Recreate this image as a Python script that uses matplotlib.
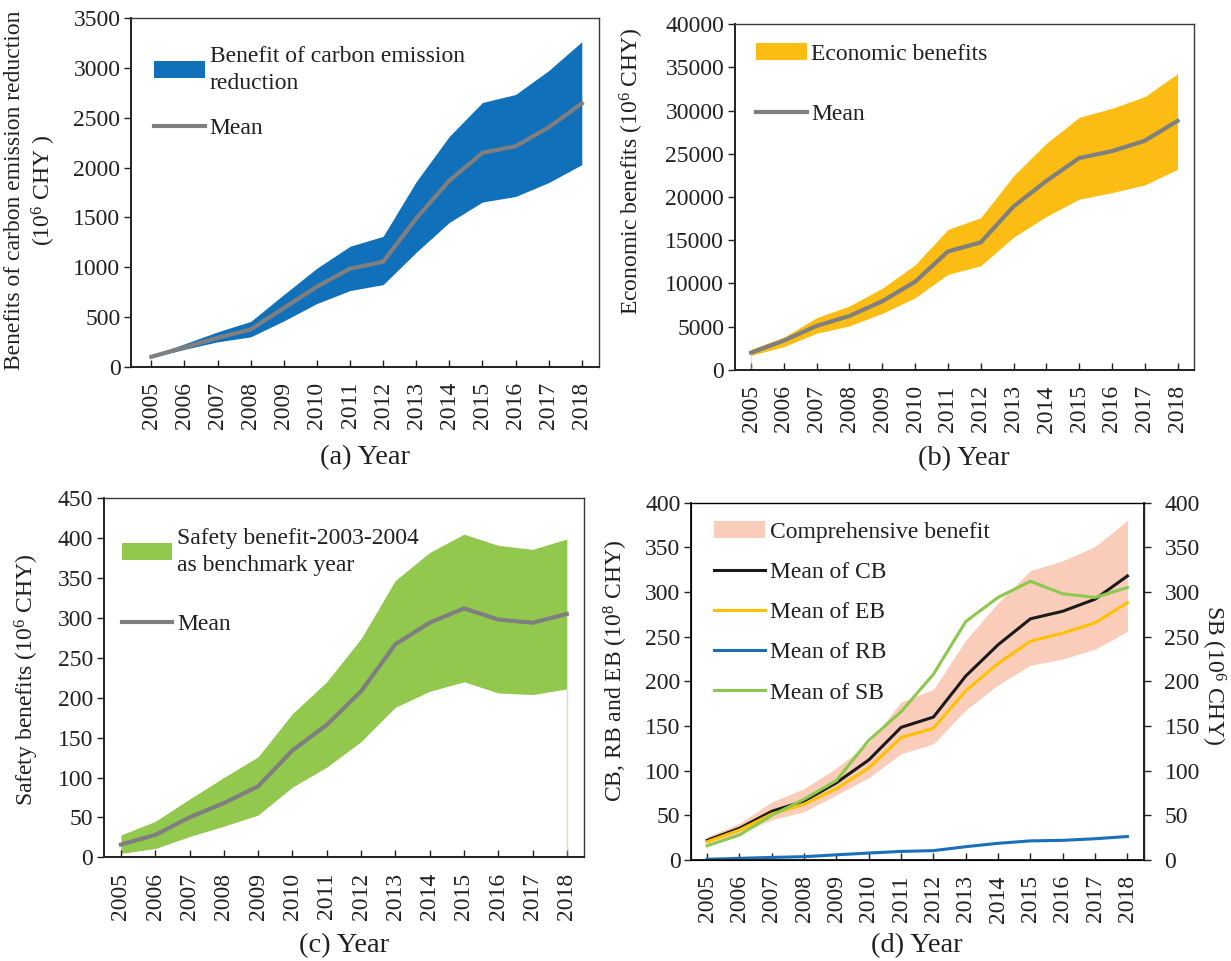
import matplotlib.pyplot as plt
from matplotlib.patches import Patch

plt.rcParams['font.family'] = ['Liberation Serif', 'DejaVu Serif']
plt.rcParams['mathtext.fontset'] = 'custom'
plt.rcParams['mathtext.rm'] = 'Liberation Serif'
plt.rcParams['mathtext.it'] = 'Liberation Serif:italic'
plt.rcParams['text.color'] = '#231F20'
plt.rcParams['axes.labelcolor'] = '#231F20'
plt.rcParams['xtick.color'] = '#231F20'
plt.rcParams['ytick.color'] = '#231F20'

years = [2005, 2006, 2007, 2008, 2009, 2010, 2011, 2012, 2013, 2014, 2015, 2016, 2017, 2018]
year_labels = [str(y) for y in years]

# (a) benefit of carbon emission reduction, 10^6 CHY
carbon_mean = [100, 195, 290, 375, 590, 805, 985, 1055, 1490, 1870, 2150, 2215, 2405, 2645]
carbon_upper = [110, 230, 350, 455, 725, 990, 1210, 1310, 1860, 2315, 2655, 2735, 2975, 3265]
carbon_lower = [90, 175, 250, 300, 460, 635, 765, 825, 1150, 1450, 1655, 1710, 1850, 2030]

# (b) economic benefits, 10^6 CHY
econ_mean = [2000, 3400, 5100, 6250, 7950, 10200, 13700, 14750, 18900, 21850, 24500, 25300, 26500, 28800]
econ_upper = [2400, 3800, 6050, 7400, 9450, 12150, 16250, 17600, 22450, 26200, 29200, 30250, 31600, 34250]
econ_lower = [1700, 2700, 4250, 5100, 6550, 8350, 11050, 12050, 15350, 17750, 19750, 20500, 21400, 23200]

# (c) safety benefits, 10^6 CHY
safety_mean = [16, 28, 50, 68, 89, 134, 166, 208, 267, 294, 312, 298, 294, 305]
safety_upper = [28, 45, 73, 100, 126, 180, 220, 274, 347, 382, 405, 391, 386, 399]
safety_lower = [5, 11, 26, 39, 53, 88, 113, 145, 188, 208, 220, 206, 204, 211]

# (d) comprehensive benefit (10^8 CHY) and SB on the right axis (10^6 CHY)
cb_mean = [22, 35.5, 54.5, 66, 86.5, 112, 148.5, 160, 206, 241, 270, 278.5, 292, 318]
cb_upper = [26, 41, 65, 80, 103, 131, 177, 191, 246, 288, 324, 335, 351, 380]
cb_lower = [19, 30, 45, 54, 73, 92, 119, 130, 168, 196, 218, 225, 236, 256]
eb_mean = [20.5, 33.5, 51.5, 62.5, 80, 103, 137, 147.5, 189.5, 220, 245, 254, 265.5, 288]
rb_mean = [0.8, 1.9, 2.9, 3.7, 5.8, 7.8, 9.6, 10.5, 14.9, 18.7, 21.4, 22, 23.8, 26.3]
sb_mean = [16, 28, 50, 68, 89, 134, 166, 208, 267, 294, 312, 298, 294, 305]

BLUE = '#1170BA'
GRAY = '#7F7F7F'
YELLOW = '#FBBD13'
GREEN = '#92C84E'
PEACH = '#F9CDB9'

FS = 17
XLABEL_FS = 20.5
x = list(range(len(years)))


def style_axes(ax, xlo=-0.5, xhi=0.5):
    ax.set_xlim(x[0] + xlo, x[-1] + xhi)
    ax.set_xticks(x)
    ax.set_xticklabels(year_labels, rotation=90)
    ax.tick_params(axis='x', direction='in', length=5, width=1, pad=11, labelsize=FS)
    ax.tick_params(axis='y', direction='out', length=5, width=1, pad=2.5, labelsize=FS)
    for side in ['left', 'bottom']:
        ax.spines[side].set_linewidth(1.4)
        ax.spines[side].set_color('#231F20')
    for side in ['top', 'right']:
        ax.spines[side].set_linewidth(1.0)
        ax.spines[side].set_color('#3A3A3A')


def add_legend(ax, handles, labels, anchor, spacing):
    leg = ax.legend(handles, labels, loc='upper left', bbox_to_anchor=anchor,
                    frameon=False, fontsize=FS, borderpad=0, borderaxespad=0,
                    handlelength=2.15, handletextpad=0.2, labelspacing=spacing)
    for t in leg.get_texts():
        t.set_linespacing(1.4)
    return leg


fig = plt.figure(figsize=(12.31, 9.61), dpi=100)

# (a) carbon emission reduction
ax_a = fig.add_axes([0.1063, 0.6184, 0.3803, 0.3625])
ax_a.fill_between(x, carbon_lower, carbon_upper, color=BLUE, linewidth=0)
mean_a, = ax_a.plot(x, carbon_mean, color=GRAY, linewidth=3)
style_axes(ax_a, xlo=-0.62, xhi=0.52)
ax_a.set_ylim(0, 3500)
ax_a.set_yticks(range(0, 3501, 500))
ax_a.set_ylabel('Benefits of carbon emission reduction\n(10$^{6}$ CHY )', fontsize=FS, linespacing=1.25)
ax_a.yaxis.set_label_coords(-0.155, 0.505)
ax_a.set_xlabel('(a) Year', fontsize=XLABEL_FS)
ax_a.xaxis.set_label_coords(0.5, -0.225)
add_legend(ax_a, [Patch(facecolor=BLUE, edgecolor='none'), mean_a],
           ['Benefit of carbon emission\nreduction', 'Mean'], (0.05, 0.922), 1.0)

# (b) economic benefits
ax_b = fig.add_axes([0.5968, 0.6150, 0.3731, 0.3600])
ax_b.fill_between(x, econ_lower, econ_upper, color=YELLOW, linewidth=0)
ax_b.vlines(x[0], 0, econ_lower[0], color=YELLOW, linewidth=0.8, alpha=0.5)
mean_b, = ax_b.plot(x, econ_mean, color=GRAY, linewidth=3)
style_axes(ax_b)
ax_b.set_ylim(0, 40000)
ax_b.set_yticks(range(0, 40001, 5000))
ax_b.set_ylabel('Economic benefits (10$^{6}$ CHY)', fontsize=FS)
ax_b.yaxis.set_label_coords(-0.193, 0.574)
ax_b.set_xlabel('(b) Year', fontsize=XLABEL_FS)
ax_b.xaxis.set_label_coords(0.5, -0.22)
add_legend(ax_b, [Patch(facecolor=YELLOW, edgecolor='none'), mean_b],
           ['Economic benefits', 'Mean'], (0.046, 0.944), 1.65)

# (c) safety benefits
ax_c = fig.add_axes([0.0843, 0.1079, 0.3901, 0.3736])
ax_c.fill_between(x, safety_lower, safety_upper, color=GREEN, linewidth=0)
ax_c.vlines(x[-1], 0, safety_lower[-1], color=GREEN, linewidth=1.0, alpha=0.45)
mean_c, = ax_c.plot(x, safety_mean, color=GRAY, linewidth=3)
style_axes(ax_c)
ax_c.set_ylim(0, 450)
ax_c.set_yticks(range(0, 451, 50))
ax_c.set_ylabel('Safety benefits (10$^{6}$ CHY)', fontsize=FS)
ax_c.yaxis.set_label_coords(-0.131, 0.494)
ax_c.set_xlabel('(c) Year', fontsize=XLABEL_FS)
ax_c.xaxis.set_label_coords(0.5, -0.21)
add_legend(ax_c, [Patch(facecolor=GREEN, edgecolor='none'), mean_c],
           ['Safety benefit-2003-2004\nas benchmark year', 'Mean'], (0.037, 0.918), 1.6)

# (d) comprehensive benefit with SB on a secondary axis
ax_d = fig.add_axes([0.5613, 0.1051, 0.3677, 0.3718])
ax_d.fill_between(x, cb_lower, cb_upper, color=PEACH, linewidth=0)
cb_line, = ax_d.plot(x, cb_mean, color='#1A1A1A', linewidth=2.2)
eb_line, = ax_d.plot(x, eb_mean, color='#FFC000', linewidth=2.2)
rb_line, = ax_d.plot(x, rb_mean, color='#1A6FBA', linewidth=2.2)
style_axes(ax_d)
ax_d.set_ylim(0, 400)
ax_d.set_yticks(range(0, 401, 50))
ax_d.set_ylabel('CB, RB and EB (10$^{8}$ CHY)', fontsize=FS)
ax_d.yaxis.set_label_coords(-0.134, 0.529)
ax_d.set_xlabel('(d) Year', fontsize=XLABEL_FS)
ax_d.xaxis.set_label_coords(0.5, -0.205)

ax_d2 = ax_d.twinx()
sb_line, = ax_d2.plot(x, sb_mean, color='#8CC84B', linewidth=2.2)
ax_d2.set_ylim(0, 400)
ax_d2.set_yticks(range(0, 401, 50))
ax_d2.tick_params(axis='y', direction='out', length=5, width=1, pad=10, labelsize=FS)
ax_d2.spines['right'].set_linewidth(1.4)
ax_d2.spines['right'].set_color('#231F20')
ax_d2.set_ylabel('SB (10$^{6}$ CHY)', fontsize=FS, rotation=-90, va='bottom')
ax_d2.yaxis.set_label_coords(1.122, 0.518)
add_legend(ax_d2, [Patch(facecolor=PEACH, edgecolor='none'), cb_line, eb_line, rb_line, sb_line],
           ['Comprehensive benefit', 'Mean of CB', 'Mean of EB', 'Mean of RB', 'Mean of SB'],
           (0.052, 0.948), 0.79)

fig.savefig('out.png', dpi=100)
